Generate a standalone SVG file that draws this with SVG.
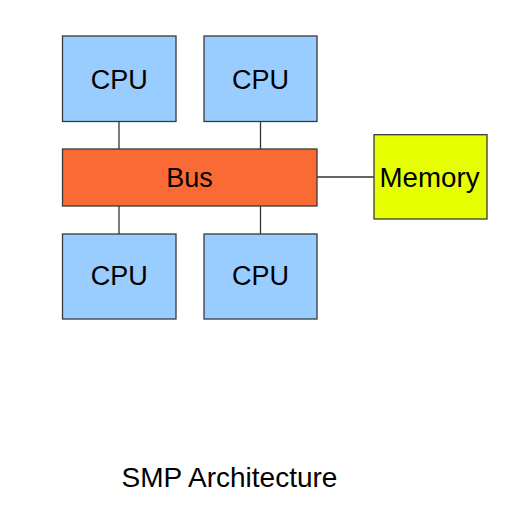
<svg xmlns="http://www.w3.org/2000/svg" width="507" height="530" viewBox="0 0 507 530">
<style>
.box{stroke:#3a3a3a;stroke-width:1.3}
.cpu{fill:#99CCFF}
.bus{fill:#FA6A35}
.mem{fill:#E6FF00}
.lbl{font-family:"Liberation Sans",Arial,sans-serif;font-size:27px;fill:#000;text-anchor:middle}
.conn line{stroke:#333;stroke-width:1.3}
</style>
<rect width="507" height="530" fill="#fff"/>
<g class="conn">
<line x1="119" y1="121.5" x2="119" y2="149"/>
<line x1="260.5" y1="121.5" x2="260.5" y2="149"/>
<line x1="119" y1="206" x2="119" y2="234"/>
<line x1="260.5" y1="206" x2="260.5" y2="234"/>
<line x1="317" y1="177" x2="374" y2="177"/>
</g>
<g id="cpu1"><rect class="box cpu" x="62.5" y="36" width="113.5" height="85.5"/><text class="lbl" x="119.3" y="89">CPU</text></g>
<g id="cpu2"><rect class="box cpu" x="204" y="36" width="113" height="85.5"/><text class="lbl" x="260.5" y="89">CPU</text></g>
<g id="bus"><rect class="box bus" x="62.5" y="149" width="254.5" height="57"/><text class="lbl" x="189.5" y="187">Bus</text></g>
<g id="memory"><rect class="box mem" x="374" y="134.7" width="113" height="84.3"/><text class="lbl" x="429.5" y="187" style="font-size:27.7px">Memory</text></g>
<g id="cpu3"><rect class="box cpu" x="62.5" y="234" width="113.5" height="85"/><text class="lbl" x="119.3" y="285">CPU</text></g>
<g id="cpu4"><rect class="box cpu" x="204" y="234" width="113" height="85"/><text class="lbl" x="260.5" y="285">CPU</text></g>
<text class="lbl" x="229.5" y="487" style="font-size:28px">SMP Architecture</text>
</svg>
